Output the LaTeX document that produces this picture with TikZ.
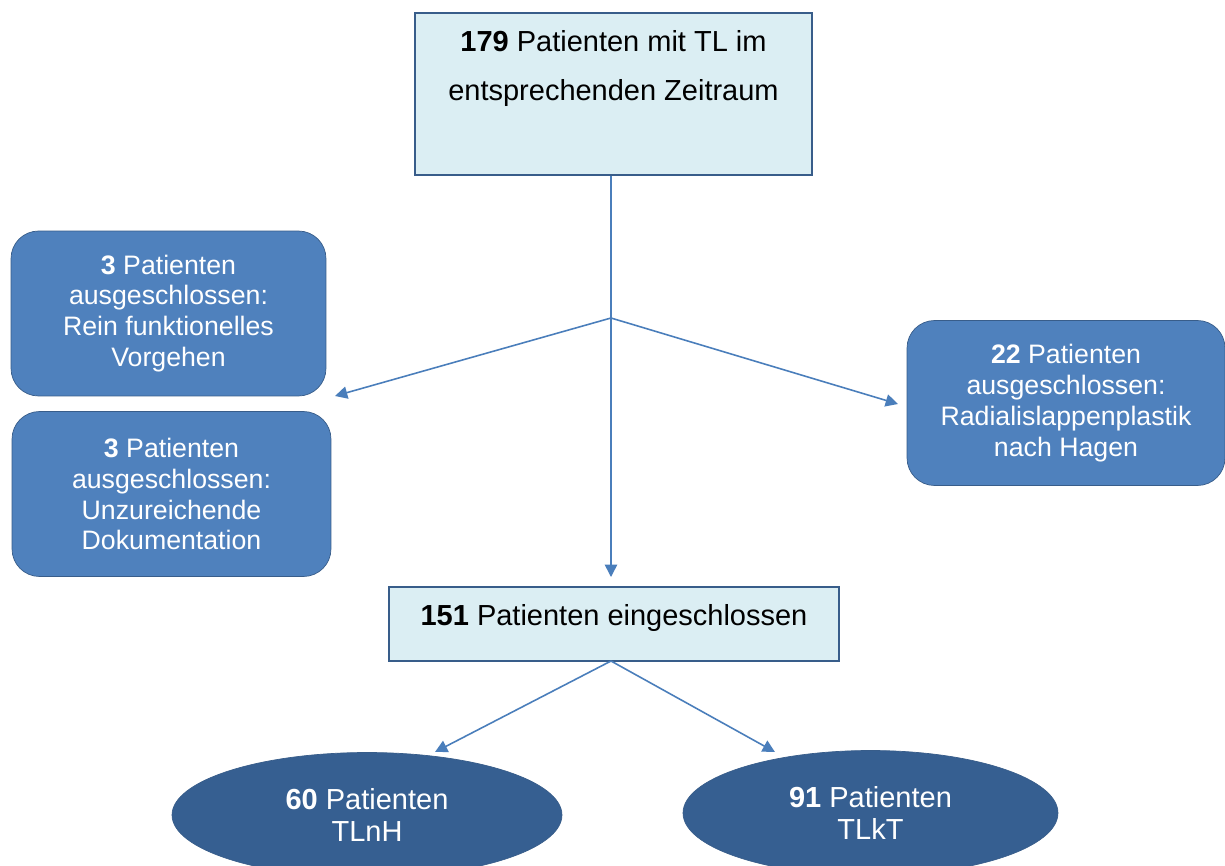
\documentclass[tikz,border=0pt]{standalone}
\usepackage{fontspec}
\setmainfont{Liberation Sans}
\usepackage{tikz}
\usetikzlibrary{positioning, arrows.meta, shapes.geometric, calc}
\definecolor{lightBox}{RGB}{219,238,243}
\definecolor{boxLine}{RGB}{56,93,138}
\definecolor{midBlue}{RGB}{79,129,189}
\definecolor{darkBlue}{RGB}{54,95,145}
\definecolor{arrBlue}{RGB}{74,126,187}

\begin{document}
\begin{tikzpicture}[
  x=0.02cm, y=-0.02cm,
  topbox/.style={draw=boxLine, fill=lightBox, line width=0.8pt, align=center,
    font=\fontsize{16.5}{28}\selectfont, inner sep=0pt},
  outbox/.style={draw=boxLine, fill=midBlue, rounded corners=0.55cm, text=white,
    align=center, font=\fontsize{15.2}{17.6}\selectfont,
    minimum width=6.3cm, minimum height=3.3cm, inner sep=0pt},
  ellbox/.style={ellipse, draw=boxLine, fill=darkBlue, text=white, align=center,
    font=\fontsize{16.5}{18.5}\selectfont, minimum width=7.8cm, minimum height=2.5cm,
    inner sep=0pt},
  arr/.style={draw=arrBlue, line width=0.9pt, -{Triangle[length=7pt, width=7pt]}},
]
  \clip (0,0) rectangle (1225,866);
  \fill[white] (0,0) rectangle (1225,866);

  % main boxes
  \node[topbox, minimum width=7.94cm, minimum height=3.24cm] (start) at (613.5,94)
    {\textbf{179} Patienten mit TL im\\ entsprechenden Zeitraum\\[4pt] \mbox{}};
  \node[topbox, minimum width=9cm, minimum height=1.48cm] (incl) at (614,624)
    {\raisebox{0.35cm}{\textbf{151} Patienten eingeschlossen}};

  % excluded
  \node[outbox] (exA) at (168.5,313.5)
    {\textbf{3} Patienten\\ ausgeschlossen:\\ Rein funktionelles\\ Vorgehen};
  \node[outbox, minimum width=6.38cm] (exB) at (171.5,494)
    {\textbf{3} Patienten\\ ausgeschlossen:\\ Unzureichende\\ Dokumentation};
  \node[outbox, minimum width=6.36cm] (exC) at (1066,403)
    {\textbf{22} Patienten\\ ausgeschlossen:\\ Radialislappenplastik\\ nach Hagen};

  % groups
  \node[ellbox] (grpA) at (367,815) {\textbf{60} Patienten\\ TLnH};
  \node[ellbox, minimum width=7.5cm] (grpB) at (870.5,813) {\textbf{91} Patienten\\ TLkT};

  % connectors
  \coordinate (split) at (611,318);
  \coordinate (endA) at (335,396);
  \coordinate (endC) at (898,404);
  \coordinate (endIn) at (611,577);
  \coordinate (fork) at (611,661);
  \coordinate (endG1) at (435,752);
  \coordinate (endG2) at (775,752);
  \draw[arr] (start.south -| split) -- (endIn);
  \draw[arr] (split) -- (endA);
  \draw[arr] (split) -- (endC);
  \draw[arr] (fork) -- (endG1);
  \draw[arr] (fork) -- (endG2);
\end{tikzpicture}
\end{document}
